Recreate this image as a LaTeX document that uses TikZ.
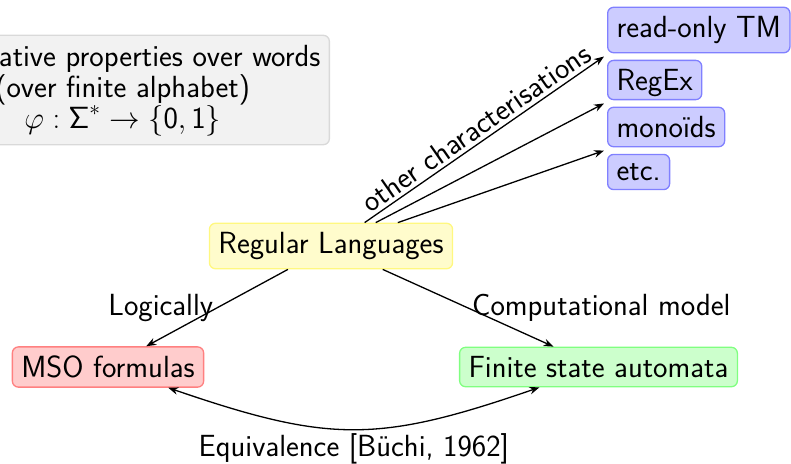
\RequirePackage{fix-cm}
\documentclass[tikz,border=0pt]{standalone}
\usepackage{fontspec}
\usetikzlibrary{arrows.meta,calc}
\begin{document}
\begin{tikzpicture}[x=1pt,y=1pt,
  every node/.style={font=\sffamily\fontsize{30.6}{31}\selectfont},
  box/.style={draw, rounded corners=6pt, line width=1.3pt, inner sep=9pt},
  tip/.tip={Stealth[length=10pt,width=7.5pt]},
  arr/.style={-tip, line width=1.3pt}]
\clip (0,0) rectangle (791,-463);
\node[box, fill=black!5, draw=black!15, align=center, anchor=east] (prop) at (330,-90)
  {Qualitative properties over words\\(over finite alphabet)\\$\varphi : \mbox{Σ}^* \rightarrow \{\mbox{0},\mbox{1}\}$};
\node[box, fill=yellow!20, draw=yellow!50] (rl) at (331,-246) {Regular Languages};
\node[box, fill=red!20, draw=red!50] (mso) at (108,-367) {MSO formulas};
\node[box, fill=green!20, draw=green!50] (fsa) at (598.5,-367) {Finite state automata};
\node[box, fill=blue!20, draw=blue!50, anchor=west] (ro) at (607,-30) {read-only TM};
\node[box, fill=blue!20, draw=blue!50, anchor=west, text depth=0pt] (rx) at (607,-80) {RegEx};
\node[box, fill=blue!20, draw=blue!50, anchor=west] (mo) at (607,-127) {monoïds};
\node[box, fill=blue!20, draw=blue!50, anchor=west] (etc) at (607,-172) {etc.};
\coordinate (t1) at ($(ro.south west)!.5!(rx.north west)+(-3,0)$);
\coordinate (t2) at ($(rx.south west)!.5!(mo.north west)+(-3,0)$);
\coordinate (t3) at ($(mo.south west)!.5!(etc.north west)+(-3,0)$);
\draw[arr] (rl) -- node[midway, above, sloped] {other characterisations} (t1);
\draw[arr] (rl) -- (t2);
\draw[arr] (rl) -- (t3);
\draw[arr] (rl) -- node[midway, left] {Logically} (mso);
\draw[arr] (rl) -- node[midway, right] {Computational model} (fsa);
\draw[tip-tip, line width=1.3pt] (mso) to[bend right=19, looseness=1.18]
  node[midway, below] {Equivalence [Büchi, 1962]} (fsa);
\end{tikzpicture}
\end{document}
